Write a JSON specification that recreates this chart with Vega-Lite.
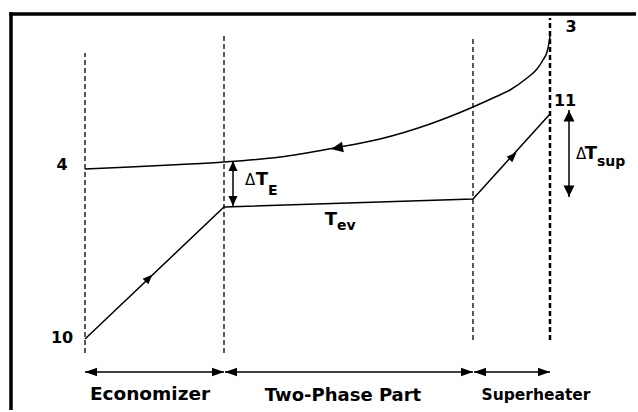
{
  "$schema": "https://vega.github.io/schema/vega-lite/v6.json",
  "width": 638,
  "height": 412,
  "autosize": {"type": "fit", "contains": "padding"},
  "padding": 0,
  "background": "white",
  "config": {"view": {"stroke": null}},
  "datasets": {
    "frame": [
      {"x": 11, "y": 2, "x2": 11, "y2": 399.75},
      {"x": 9.25, "y": 398, "x2": 636, "y2": 398}
    ],
    "dashes": [
      {"x": 85, "y": 59, "y2": 359, "kind": "thin"},
      {"x": 224, "y": 59, "y2": 376, "kind": "thin"},
      {"x": 473, "y": 72, "y2": 375, "kind": "thin"},
      {"x": 550, "y": 72, "y2": 394, "kind": "thick"}
    ],
    "hot": [
      {"x": 85, "y": 243}, {"x": 130, "y": 245}, {"x": 180, "y": 247.5},
      {"x": 224, "y": 250}, {"x": 280, "y": 255}, {"x": 334, "y": 264},
      {"x": 380, "y": 273}, {"x": 430, "y": 288}, {"x": 473, "y": 305},
      {"x": 493, "y": 314}, {"x": 510, "y": 322}, {"x": 527, "y": 334},
      {"x": 537, "y": 343}, {"x": 543, "y": 352}, {"x": 547, "y": 360},
      {"x": 549, "y": 369}, {"x": 550, "y": 376}
    ],
    "cold": [
      {"x": 85, "y": 73}, {"x": 224, "y": 205}, {"x": 473, "y": 213}, {"x": 550, "y": 298}
    ],
    "spans": [
      {"x": 233, "y": 206, "y2": 251, "x2": 233},
      {"x": 569, "y": 215, "y2": 302, "x2": 569},
      {"x": 85, "y": 40, "x2": 224, "y2": 40},
      {"x": 225, "y": 40, "x2": 473, "y2": 40},
      {"x": 474, "y": 40, "x2": 550, "y2": 40}
    ],
    "heads": [
      {"x": 91, "y": 40, "dir": "left"},
      {"x": 218, "y": 40, "dir": "right"},
      {"x": 231, "y": 40, "dir": "left"},
      {"x": 467, "y": 40, "dir": "right"},
      {"x": 480, "y": 40, "dir": "left"},
      {"x": 544, "y": 40, "dir": "right"},
      {"x": 233, "y": 246, "dir": "upE"},
      {"x": 233, "y": 211, "dir": "downE"},
      {"x": 569, "y": 296, "dir": "upS"},
      {"x": 569, "y": 221, "dir": "downS"},
      {"x": 149, "y": 134, "dir": "cold"},
      {"x": 513, "y": 256, "dir": "cold"},
      {"x": 337, "y": 264, "dir": "hot"}
    ],
    "labels": [
      {"x": 62, "y": 242, "text": "4", "role": "pt"},
      {"x": 62, "y": 69, "text": "10", "role": "pt"},
      {"x": 571, "y": 380, "text": "3", "role": "pt"},
      {"x": 565, "y": 306, "text": "11", "role": "pt"},
      {"x": 250, "y": 227, "text": "Δ", "role": "delta"},
      {"x": 262, "y": 227, "text": "T", "role": "T"},
      {"x": 268, "y": 217, "text": "E", "role": "sub"},
      {"x": 581, "y": 253, "text": "Δ", "role": "delta"},
      {"x": 591, "y": 253, "text": "T", "role": "T"},
      {"x": 597, "y": 246, "text": "sup", "role": "sub"},
      {"x": 331, "y": 187, "text": "T", "role": "T"},
      {"x": 337, "y": 182, "text": "ev", "role": "sub"},
      {"x": 150, "y": 12, "text": "Economizer", "role": "r1"},
      {"x": 343, "y": 11, "text": "Two-Phase Part", "role": "r2"},
      {"x": 536, "y": 12, "text": "Superheater", "role": "r3"}
    ]
  },
  "encoding": {
    "x": {"field": "x", "type": "quantitative", "scale": {"domain": [0, 638], "nice": false, "zero": false}, "axis": null},
    "y": {"field": "y", "type": "quantitative", "scale": {"domain": [0, 412], "nice": false, "zero": false}, "axis": null}
  },
  "layer": [
    {
      "data": {"name": "frame"},
      "mark": {"type": "rule", "color": "black", "strokeWidth": 3.5, "strokeCap": "butt"},
      "encoding": {"x2": {"field": "x2"}, "y2": {"field": "y2"}}
    },
    {
      "data": {"name": "dashes"},
      "transform": [{"filter": "datum.kind === 'thin'"}],
      "mark": {"type": "rule", "color": "black", "strokeWidth": 1.3, "strokeDash": [5, 3]},
      "encoding": {"y2": {"field": "y2"}}
    },
    {
      "data": {"name": "dashes"},
      "transform": [{"filter": "datum.kind === 'thick'"}],
      "mark": {"type": "rule", "color": "black", "strokeWidth": 2.5, "strokeDash": [5, 3]},
      "encoding": {"y2": {"field": "y2"}}
    },
    {
      "data": {"name": "hot"},
      "mark": {"type": "line", "color": "black", "strokeWidth": 1.5, "interpolate": "monotone"},
      "encoding": {}
    },
    {
      "data": {"name": "cold"},
      "mark": {"type": "line", "color": "black", "strokeWidth": 1.5},
      "encoding": {}
    },
    {
      "data": {"name": "spans"},
      "mark": {"type": "rule", "color": "black", "strokeWidth": 1.5},
      "encoding": {"x2": {"field": "x2"}, "y2": {"field": "y2"}}
    },
    {
      "data": {"name": "heads"},
      "transform": [{"filter": "datum.dir === 'left'"}],
      "mark": {"type": "point", "filled": true, "color": "black", "opacity": 1, "strokeWidth": 0, "size": 144, "shape": "M-1,0L1,-0.7L1,0.7Z"},
      "encoding": {}
    },
    {
      "data": {"name": "heads"},
      "transform": [{"filter": "datum.dir === 'right'"}],
      "mark": {"type": "point", "filled": true, "color": "black", "opacity": 1, "strokeWidth": 0, "size": 144, "shape": "M1,0L-1,-0.7L-1,0.7Z"},
      "encoding": {}
    },
    {
      "data": {"name": "heads"},
      "transform": [{"filter": "datum.dir === 'upE'"}],
      "mark": {"type": "point", "filled": true, "color": "black", "opacity": 1, "strokeWidth": 0, "size": 100, "shape": "M0,-1L-0.9,1L0.9,1Z"},
      "encoding": {}
    },
    {
      "data": {"name": "heads"},
      "transform": [{"filter": "datum.dir === 'downE'"}],
      "mark": {"type": "point", "filled": true, "color": "black", "opacity": 1, "strokeWidth": 0, "size": 100, "shape": "M0,1L-0.9,-1L0.9,-1Z"},
      "encoding": {}
    },
    {
      "data": {"name": "heads"},
      "transform": [{"filter": "datum.dir === 'upS'"}],
      "mark": {"type": "point", "filled": true, "color": "black", "opacity": 1, "strokeWidth": 0, "size": 121, "shape": "M0,-1L-1,1L1,1Z"},
      "encoding": {}
    },
    {
      "data": {"name": "heads"},
      "transform": [{"filter": "datum.dir === 'downS'"}],
      "mark": {"type": "point", "filled": true, "color": "black", "opacity": 1, "strokeWidth": 0, "size": 121, "shape": "M0,1L-1,-1L1,-1Z"},
      "encoding": {}
    },
    {
      "data": {"name": "heads"},
      "transform": [{"filter": "datum.dir === 'cold'"}],
      "mark": {"type": "point", "filled": true, "color": "black", "opacity": 1, "strokeWidth": 0, "size": 100, "angle": 45, "shape": "M0,-1L-0.8,1L0.8,1Z"},
      "encoding": {}
    },
    {
      "data": {"name": "heads"},
      "transform": [{"filter": "datum.dir === 'hot'"}],
      "mark": {"type": "point", "filled": true, "color": "black", "opacity": 1, "strokeWidth": 0, "size": 144, "angle": -100, "shape": "M0,-1L-0.9,1L0.9,1Z"},
      "encoding": {}
    },
    {
      "data": {"name": "labels"},
      "transform": [{"filter": "datum.role === 'pt'"}],
      "mark": {"type": "text", "font": "DejaVu Sans", "fontWeight": "bold", "fontSize": 16, "align": "center", "baseline": "alphabetic", "color": "black"},
      "encoding": {"text": {"field": "text"}}
    },
    {
      "data": {"name": "labels"},
      "transform": [{"filter": "datum.role === 'delta'"}],
      "mark": {"type": "text", "font": "DejaVu Sans", "fontWeight": "normal", "fontSize": 15, "align": "center", "baseline": "alphabetic", "color": "black"},
      "encoding": {"text": {"field": "text"}}
    },
    {
      "data": {"name": "labels"},
      "transform": [{"filter": "datum.role === 'T'"}],
      "mark": {"type": "text", "font": "DejaVu Sans", "fontWeight": "bold", "fontSize": 18, "align": "center", "baseline": "alphabetic", "color": "black"},
      "encoding": {"text": {"field": "text"}}
    },
    {
      "data": {"name": "labels"},
      "transform": [{"filter": "datum.role === 'sub'"}],
      "mark": {"type": "text", "font": "DejaVu Sans", "fontWeight": "bold", "fontSize": 14, "align": "left", "baseline": "alphabetic", "color": "black"},
      "encoding": {"text": {"field": "text"}}
    },
    {
      "data": {"name": "labels"},
      "transform": [{"filter": "datum.role === 'r1'"}],
      "mark": {"type": "text", "font": "DejaVu Sans", "fontWeight": "bold", "fontSize": 18.5, "align": "center", "baseline": "alphabetic", "color": "black"},
      "encoding": {"text": {"field": "text"}}
    },
    {
      "data": {"name": "labels"},
      "transform": [{"filter": "datum.role === 'r2'"}],
      "mark": {"type": "text", "font": "DejaVu Sans", "fontWeight": "bold", "fontSize": 18, "align": "center", "baseline": "alphabetic", "color": "black"},
      "encoding": {"text": {"field": "text"}}
    },
    {
      "data": {"name": "labels"},
      "transform": [{"filter": "datum.role === 'r3'"}],
      "mark": {"type": "text", "font": "DejaVu Sans", "fontWeight": "bold", "fontSize": 15.5, "align": "center", "baseline": "alphabetic", "color": "black"},
      "encoding": {"text": {"field": "text"}}
    }
  ]
}
